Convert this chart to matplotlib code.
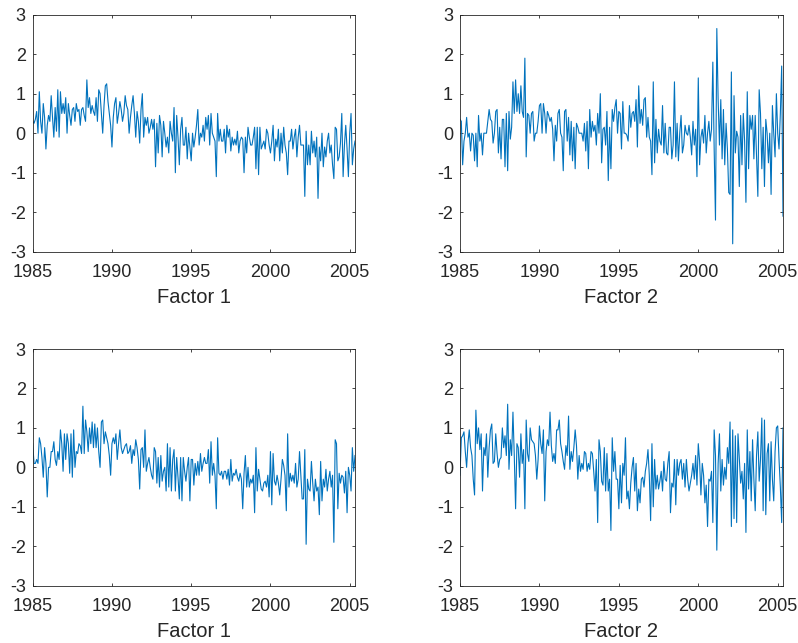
import numpy as np
import matplotlib
matplotlib.use('Agg')
import matplotlib.pyplot as plt

# monthly series, Jan 1985 .. May 2005 (one line per year)
start_year = 1985

factor1_top = [
    0.3, 0.25, 0.35, 0.55, 0.0, 1.05, 0.3, 0.0, 0.75, 0.4, -0.4, 0.2,
    0.45, 0.3, 0.95, 0.4, -0.1, 0.65, 0.05, 1.1, -0.1, 1.05, 0.5, 0.75,
    0.5, 0.9, 0.0, 0.75, 0.45, 0.2, 0.6, 0.65, 0.3, 0.75, 0.55, 0.6,
    0.2, 0.6, 0.65, 0.45, 0.3, 1.35, 0.65, 0.9, 0.5, 0.7, 0.55, 0.45,
    0.9, 0.3, 1.1, 1.0, 0.5, 0.0, 0.7, 1.2, 1.25, 0.8, 0.5, 0.2,
    -0.35, 0.4, 0.75, 0.9, 0.25, 0.5, 0.8, 0.6, 0.3, 0.5, 0.95, 0.7,
    0.6, 0.0, 0.4, 0.7, 0.95, 0.5, -0.1, 0.55, 0.3, -0.25, 0.6, 1.0,
    -0.1, 0.4, 0.2, 0.4, 0.0, 0.15, 0.35, 0.1, 0.35, -0.85, 0.25, -0.5,
    0.45, 0.2, -0.6, 0.3, 0.0, -0.35, -0.1, -0.5, 0.3, 0.0, -0.2, 0.65,
    -1.0, 0.45, -0.1, -0.8, 0.1, 0.4, -0.3, -0.3, 0.15, -0.65, 0.0, -0.35,
    -0.7, 0.0, -0.35, -0.1, 0.2, 0.6, -0.3, 0.0, -0.1, 0.2, -0.2, 0.4,
    0.1, 0.45, -0.3, 0.5, 0.0, -0.1, -0.2, -1.1, 0.5, -0.2, 0.1, -0.2,
    -0.2, 0.1, -0.5, 0.2, -0.1, 0.1, -0.45, -0.1, -0.3, -0.15, -0.3, 0.05,
    -0.5, -0.2, -0.1, -0.15, -1.0, -0.1, -0.5, 0.15, -0.1, -0.3, -0.3, -0.1,
    0.15, -0.9, 0.15, -1.05, 0.15, -0.4, -0.3, -0.2, -0.4, 0.1, 0.0, -0.3,
    -0.5, -0.2, 0.2, -0.7, -0.15, -0.35, 0.1, -0.7, 0.0, -0.5, 0.15, -0.3,
    -0.5, -1.05, -0.2, -0.2, 0.1, -0.4, -0.1, 0.1, -0.6, -0.1, 0.2, -0.3,
    -0.3, -0.3, -1.6, 0.05, -0.8, -0.3, -0.8, 0.05, -0.5, -0.2, -0.6, -0.1,
    -1.65, -0.35, -0.7, 0.0, -0.85, -0.35, -0.6, -0.2, 0.0, -0.5, -0.3, -0.8,
    -1.15, 0.15, 0.1, -0.7, -0.6, -0.25, 0.5, -1.1, -0.3, 0.2, -0.4, -1.1,
    0.0, 0.5, -0.8, -0.4, -0.2,
]

factor2_top = [
    0.35, 0.3, -0.8, -0.2, 0.0, 0.4, -0.1, 0.0, -0.45, 0.0, -0.05, -0.7,
    0.0, -0.85, 0.45, -0.2, 0.0, -0.55, 0.0, 0.0, 0.0, 0.3, 0.6, 0.35,
    0.3, -0.25, 0.0, 0.55, 0.6, -0.5, 0.15, -0.65, 0.35, 0.35, -0.85, 0.5,
    -0.95, 0.55, -0.15, 0.15, 1.3, 0.5, 1.35, 0.55, 1.0, 0.5, 1.2, 0.55,
    0.4, 1.9, -0.6, 0.5, 0.45, 0.0, 0.5, 0.55, -0.2, 0.0, 0.0, 0.3,
    0.7, 0.75, 0.0, 0.75, 0.5, 0.0, 0.55, 0.45, 0.3, 0.4, 0.1, -0.7,
    0.2, -0.2, 0.5, 0.6, 0.0, -0.1, -0.95, 0.55, 0.6, -0.2, 0.4, -0.55,
    0.3, -0.7, 0.15, -0.9, 0.25, 0.15, 0.0, 0.0, 0.0, -0.2, 0.25, -0.45,
    0.3, -0.9, 0.6, -0.1, 0.3, 0.05, 0.2, -0.3, 0.5, 0.0, 1.0, -0.75,
    0.1, 0.15, -0.3, 0.55, -1.2, 0.15, -0.9, 0.6, 0.3, 0.65, 0.85, 0.0,
    0.55, 0.5, -0.4, 0.8, 0.0, 0.0, -0.05, -0.2, 0.7, 0.15, 0.5, 0.55,
    0.3, 0.85, -0.35, 1.2, 0.25, 0.6, 0.2, 0.85, 0.9, -0.1, 0.4, -0.1,
    -0.2, -1.05, 1.3, -0.75, 0.35, -0.5, 0.1, -0.2, -0.3, 0.7, -0.5, 0.25,
    -0.5, -0.55, 0.15, 0.15, -0.65, -0.3, 1.3, -0.6, 0.25, -0.7, 0.0, 0.45,
    -0.5, -0.3, 0.2, 0.0, -0.05, 0.2, -0.1, -0.55, 0.3, -0.3, 0.1, -1.1,
    1.4, -0.8, -0.1, 0.1, -0.25, 0.45, -0.5, 0.0, 0.3, -0.2, 0.1, 1.8,
    -0.4, -2.2, 2.65, 0.85, -0.3, 0.85, -0.65, 0.6, -0.8, 0.25, -0.4, -1.5,
    -1.55, 1.55, -2.8, 0.95, -0.5, 0.05, -0.1, -1.35, 0.45, -0.8, 0.5, -0.2,
    -1.75, 1.05, -0.9, 0.45, 0.1, 0.45, -0.65, 0.45, -0.6, -1.6, 1.1, 0.5,
    -0.9, 0.15, -1.35, 0.35, 0.0, -0.75, 0.0, -1.55, 0.7, 0.0, -0.6, 1.0,
    0.0, -0.4, 0.5, 1.7, -2.1,
]

factor1_bottom = [
    0.6, 0.1, 0.1, 0.2, 0.1, 0.75, 0.6, 0.25, -0.25, 0.5, 0.1, -0.75,
    0.0, 0.0, 0.4, 0.4, 0.65, 0.2, 0.05, 0.4, 0.2, 0.95, 0.6, -0.1,
    0.85, 0.2, 0.85, 0.6, -0.15, 0.85, -0.25, 0.95, 0.0, 0.4, 0.35, 0.6,
    0.55, 0.35, 1.55, 0.35, 1.2, 0.9, 0.4, 1.0, 0.6, 1.15, 0.5, 1.1,
    0.5, 1.0, 0.4, 0.0, 1.15, 1.2, 0.6, 0.9, 0.75, 0.6, 0.3, -0.2,
    0.6, 0.75, 0.6, 0.85, 0.2, 0.6, 0.95, 0.5, 0.35, 0.45, 0.55, 0.6,
    0.35, 0.4, 0.55, 0.1, 0.45, 0.3, 0.7, 0.5, 0.2, -0.55, 0.45, 0.5,
    0.0, 0.95, -0.1, 0.1, 0.25, 0.0, -0.2, -0.3, 0.5, 0.4, -0.4, 0.25,
    -0.5, 0.3, -0.35, -0.1, 0.0, -0.6, 0.6, -0.5, 0.5, -0.6, 0.2, 0.45,
    -0.6, 0.25, -0.25, -0.8, 0.25, -0.85, 0.25, -0.1, -0.35, 0.0, 0.25, -0.85,
    0.2, 0.2, -0.45, 0.1, -0.2, 0.15, -0.2, 0.35, -0.1, 0.1, 0.25, 0.1,
    0.1, 0.45, -0.4, 0.65, -0.2, 0.1, -0.2, -1.05, 0.75, -0.15, -0.2, -0.1,
    -0.3, -0.1, -0.1, -0.3, -0.05, -0.45, 0.2, -0.35, -0.15, -0.2, -0.05, -0.25,
    -0.35, -0.15, -0.3, -1.05, -0.15, 0.3, -0.5, 0.0, -0.5, -0.3, -0.4, -0.2,
    -1.15, 0.5, -0.6, -0.05, -0.3, -0.55, -0.6, -0.4, -0.35, -0.5, -0.2, -0.75,
    0.4, -0.95, 0.35, -0.35, -0.45, -0.2, -0.4, -0.7, -0.3, 0.2, 0.05, -0.2,
    -1.1, 0.85, -0.5, -0.15, -0.35, -0.2, -0.4, 0.1, -0.5, -0.3, 0.4, -0.2,
    -0.8, -0.8, 0.45, -1.95, -0.3, -0.55, -0.6, 0.15, -0.4, -0.85, -0.3, -0.6,
    -0.5, -1.2, 0.15, -0.85, -0.3, -0.5, -0.05, -0.6, -0.3, -0.1, -0.5, -0.2,
    -1.9, 0.7, 0.6, -1.05, -0.15, -0.4, -0.2, -0.25, -0.65, -0.1, -1.15, 0.0,
    -0.2, -0.6, 0.5, -0.1, 0.3,
]

factor2_bottom = [
    -0.2, 0.75, 0.8, 0.9, 0.4, 0.0, 0.6, 0.95, 0.5, 0.3, -0.3, -0.7,
    1.45, 0.6, 1.0, 0.45, 0.85, -0.6, 0.5, 0.3, 0.85, -0.25, 0.5, 0.95,
    1.1, 0.1, 0.15, 0.85, 0.35, 0.0, 0.2, 0.25, 1.0, 0.5, 0.8, 0.3,
    1.6, -0.05, 0.7, 0.3, 1.4, 0.3, -1.05, 0.6, 0.5, -0.25, 0.85, 0.1,
    0.45, -1.05, 1.2, 0.35, 0.15, 1.0, 0.7, 0.65, 0.6, 0.3, -0.3, 0.2,
    1.05, 0.6, 0.35, 0.95, -0.85, 0.4, 0.7, 0.55, 1.4, 0.55, 0.15, 0.35,
    0.1, 0.95, 0.95, 1.2, 0.6, 0.4, 0.15, -0.05, 0.55, 0.3, 1.3, -0.05,
    0.4, 0.15, 0.5, 0.95, 0.55, -0.3, 0.3, -0.1, 0.1, -0.05, 0.4, 0.35,
    -0.1, 0.1, -0.05, 0.4, 0.35, -0.1, -0.6, 0.2, -1.4, 0.7, 0.4, -0.35,
    -0.45, 0.5, -0.6, 0.35, -0.6, -0.3, -1.6, 0.75, -0.1, 0.4, -0.3, -0.3,
    -1.05, 0.05, -0.9, 0.1, -0.2, 0.75, -0.8, -0.6, -1.05, -0.4, 0.0, 0.25,
    -0.6, 0.1, -1.1, -0.55, -0.9, -0.3, -0.25, -0.5, -0.1, 0.1, 0.45, -0.2,
    -1.35, 0.6, -1.0, 0.2, -0.55, -0.2, -0.55, -0.35, -0.1, -0.6, 0.15, -0.3,
    -0.35, 0.1, 0.4, -1.15, -0.4, -0.5, 0.2, -0.95, 0.2, -0.2, 0.1, 0.2,
    -0.3, 0.1, -0.5, 0.2, -0.3, -0.6, -0.4, -0.2, 0.1, -0.3, 0.3, -0.45,
    0.6, 0.15, -0.7, 0.1, -0.2, -0.9, -0.45, -1.5, -0.3, -0.35, -0.1, -1.4,
    0.95, 0.3, -2.1, 0.1, 0.85, -0.6, 0.2, -0.45, 0.0, -0.3, 0.5, 0.1,
    1.15, -1.5, 0.95, -1.3, 0.8, -1.4, 0.85, 0.2, -0.4, -0.1, -0.8, 0.1,
    -1.65, 0.95, -0.55, 0.4, -0.85, 0.7, -0.3, -1.1, 0.3, 0.9, -0.35, 0.2,
    1.25, -1.1, 1.2, -1.2, 0.35, 0.6, -0.85, 0.65, -0.3, -0.85, 0.4, 1.0,
    1.05, 0.2, -0.5, -1.4, 1.0,
]

panel_labels = ['Factor 1', 'Factor 2', 'Factor 1', 'Factor 2']
x_ticks = [1985, 1990, 1995, 2000, 2005]
y_ticks = [-3, -2, -1, 0, 1, 2, 3]

plt.rcParams['font.family'] = ['Liberation Sans', 'DejaVu Sans']
plt.rcParams['axes.unicode_minus'] = False

LINE = '#0072BD'
AXC = '#262626'


def draw_panel(fig, rect, values, label):
    ax = fig.add_axes(rect)
    dates = start_year + np.arange(len(values)) / 12.0
    ax.plot(dates, values, color=LINE, linewidth=0.8)
    ax.set_xlim(start_year, dates[-1])
    ax.set_ylim(-3, 3)
    ax.set_xticks(x_ticks)
    ax.set_yticks(y_ticks)
    ax.tick_params(direction='in', top=True, right=True, length=2.5, width=0.6,
                   colors=AXC, labelsize=13, pad=5)
    ax.tick_params(axis='x', pad=9)
    for s in ax.spines.values():
        s.set_color(AXC)
        s.set_linewidth(0.6)
    ax.set_xlabel(label, fontsize=14.5, color=AXC, labelpad=5)
    return ax


def main():
    fig = plt.figure(figsize=(7.98, 6.43), dpi=100)
    W, H = 798.0, 643.0
    lefts = [32.7, 460.0]
    rights = [355.0, 783.0]
    tops = [14.7, 349.0]
    bottoms = [251.7, 585.7]
    series = [factor1_top, factor2_top, factor1_bottom, factor2_bottom]
    k = 0
    for r in range(2):
        for c in range(2):
            rect = [lefts[c] / W, 1 - bottoms[r] / H,
                    (rights[c] - lefts[c]) / W, (bottoms[r] - tops[r]) / H]
            draw_panel(fig, rect, series[k], panel_labels[k])
            k += 1
    fig.savefig('out.png', dpi=100, facecolor='white')


if __name__ == '__main__':
    main()
